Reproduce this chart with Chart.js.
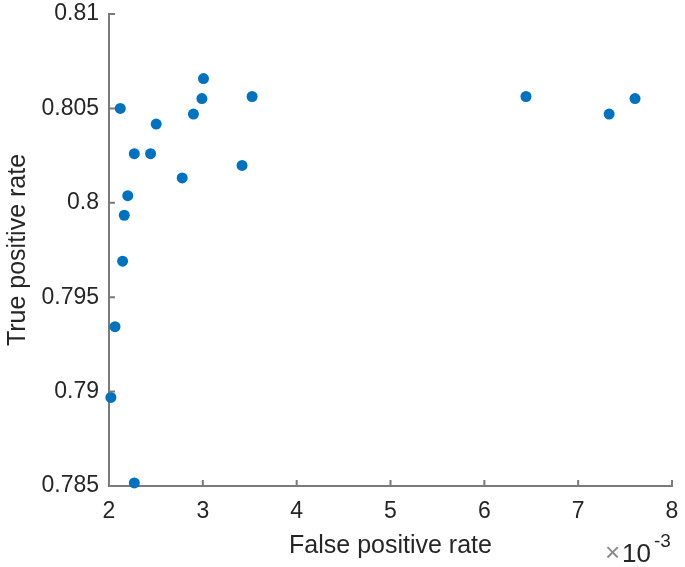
<!DOCTYPE html>
<html>
<head>
<meta charset="utf-8">
<script src="https://cdn.jsdelivr.net/npm/chart.js@4/dist/chart.umd.min.js"></script>
<style>
  html, body { margin: 0; padding: 0; background: #fff; }
  #wrap { width: 685px; height: 567px; }
</style>
</head>
<body>
<div id="wrap"><canvas id="myChart"></canvas></div>
<script>
// false positive rate (x) and true positive rate (y)
const fpr = [0.00212, 0.003007, 0.00299, 0.003525, 0.0029, 0.002503, 0.00227, 0.002443, 0.00278, 0.003418,
             0.0022, 0.002163, 0.002145, 0.002064, 0.00202, 0.00227, 0.006444, 0.00733, 0.007606];
const tpr = [0.805, 0.80658, 0.80552, 0.80563, 0.8047, 0.80417, 0.8026, 0.8026, 0.80132, 0.80198,
             0.80038, 0.79934, 0.79691, 0.79344, 0.78969, 0.78516, 0.80563, 0.8047, 0.80552];

const xTicks = [2, 3, 4, 5, 6, 7, 8];          // shown as x 10^-3
const yTicks = [0.785, 0.79, 0.795, 0.8, 0.805, 0.81];
const xTitle = 'False positive rate';
const yTitle = 'True positive rate';
const xExponent = '-3';

const textColor = '#262626';
const axisColor = '#7a7a7a';
const fontFamily = '"Liberation Sans", Arial, Helvetica, sans-serif';

// matlab style: short ticks pointing into the plot, plus the x10^-3 note
const matlabTicks = {
  id: 'matlabTicks',
  afterDraw(chart) {
    const ctx = chart.ctx;
    const x = chart.scales.x;
    const y = chart.scales.y;
    const area = chart.chartArea;
    ctx.save();
    ctx.strokeStyle = axisColor;
    ctx.lineWidth = 2;
    ctx.beginPath();
    x.ticks.forEach(t => {
      const px = x.getPixelForValue(t.value);
      ctx.moveTo(px, area.bottom);
      ctx.lineTo(px, area.bottom - 6);
    });
    y.ticks.forEach(t => {
      const py = y.getPixelForValue(t.value);
      ctx.moveTo(area.left, py);
      ctx.lineTo(area.left + 6, py);
    });
    ctx.stroke();

    // exponent note under the right end of the x axis
    ctx.textBaseline = 'alphabetic';
    ctx.textAlign = 'left';
    ctx.fillStyle = '#8a8a8a';
    ctx.font = '26px ' + fontFamily;
    ctx.fillText('\u00d7', 605, 561);
    ctx.fillStyle = textColor;
    ctx.font = '26px ' + fontFamily;
    ctx.fillText('10', 622, 562);
    ctx.font = '19px ' + fontFamily;
    ctx.fillText(xExponent, 654, 547);
    ctx.restore();
  }
};

const ctx = document.getElementById('myChart').getContext('2d');
new Chart(ctx, {
  type: 'scatter',
  data: {
    datasets: [{
      data: fpr.map((v, i) => ({ x: v, y: tpr[i] })),
      backgroundColor: '#0072BD',
      borderWidth: 0,
      pointRadius: 5.5,
      pointHoverRadius: 5.5,
      clip: false
    }]
  },
  options: {
    responsive: true,
    maintainAspectRatio: false,
    animation: false,
    events: [],
    layout: { padding: { top: 14, right: 13, left: 0, bottom: 0 } },
    plugins: { legend: { display: false }, tooltip: { enabled: false } },
    scales: {
      x: {
        type: 'linear',
        min: 0.002,
        max: 0.008,
        afterBuildTicks: s => { s.ticks = xTicks.map(v => ({ value: v / 1000 })); },
        afterFit: s => { s.height = 81; s.paddingLeft = 0; s.paddingRight = 0; },
        grid: { display: false, drawTicks: false },
        border: { display: true, color: axisColor, width: 2 },
        ticks: {
          color: textColor,
          font: { family: fontFamily, size: 23 },
          padding: 12,
          maxRotation: 0,
          callback: v => String(Math.round(v * 1000))
        },
        title: {
          display: true,
          text: xTitle,
          color: textColor,
          font: { family: fontFamily, size: 25 },
          padding: { top: 0, bottom: 6 }
        }
      },
      y: {
        type: 'linear',
        min: 0.785,
        max: 0.81,
        afterBuildTicks: s => { s.ticks = yTicks.map(v => ({ value: v })); },
        afterFit: s => { s.width = 109; s.paddingTop = 0; s.paddingBottom = 0; },
        grid: { display: false, drawTicks: false },
        border: { display: true, color: axisColor, width: 2 },
        ticks: {
          color: textColor,
          font: { family: fontFamily, size: 23 },
          padding: 10,
          callback: v => String(Number(v.toFixed(3)))
        },
        title: {
          display: true,
          text: yTitle,
          color: textColor,
          font: { family: fontFamily, size: 25 },
          padding: { top: 3, bottom: 0 }
        }
      }
    }
  },
  plugins: [matlabTicks]
});
</script>
</body>
</html>
